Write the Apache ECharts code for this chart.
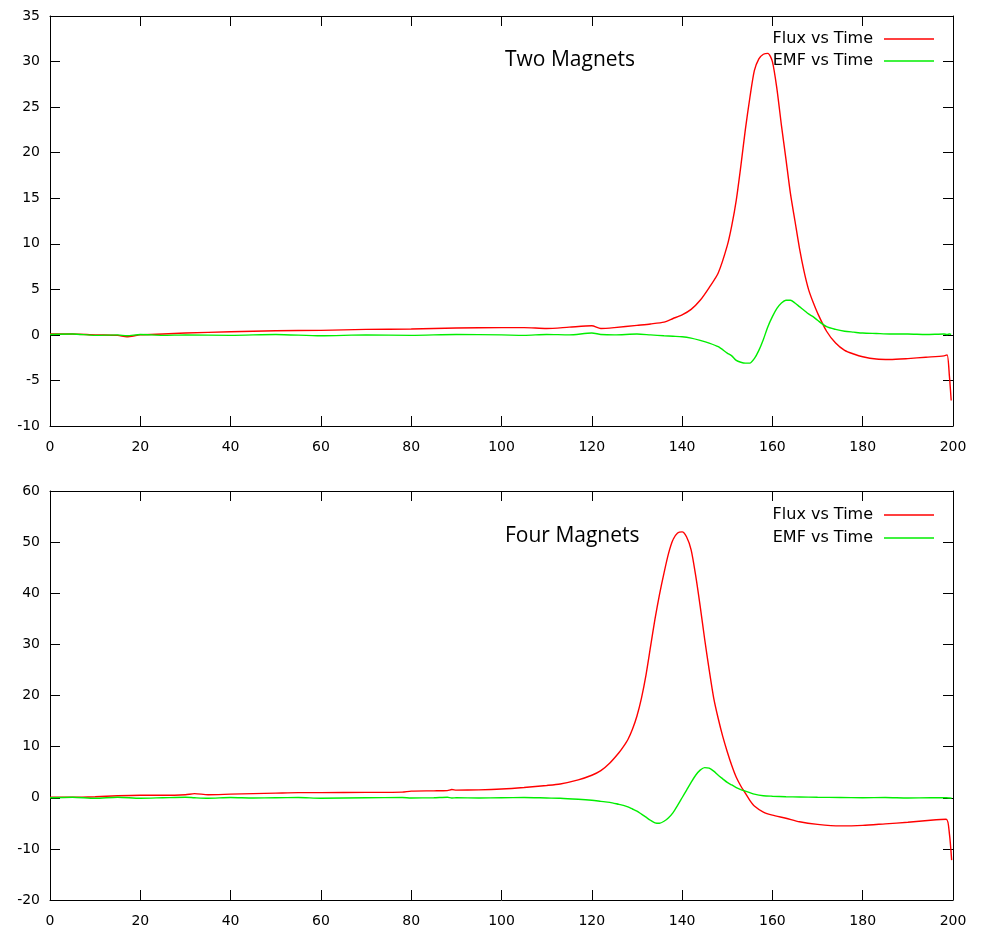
<!DOCTYPE html>
<html>
<head>
<meta charset="utf-8">
<script src="https://cdn.jsdelivr.net/npm/echarts@6/dist/echarts.min.js"></script>
<style>
html,body{margin:0;padding:0;background:#fff;}
#chart{width:986px;height:936px;}
</style>
</head>
<body>
<div id="chart"></div>
<script>
// ---- Top panel: Two Magnets ----
var timeTwo = [0,5,10,15,17,20,25,30,40,50,60,70,80,90,100,105,110,115,120,122,125,130,133,136,138,140,142,144,146,148,150,151,152,153,154,155,156,157,158,159,160,161,162,163,164,165,166,167,168,169,170,172,174,176,178,180,183,186,190,194,198,198.7,199.2,199.6];
var fluxTwo = [0.1,0.1,0.0,-0.05,-0.2,0.0,0.1,0.2,0.35,0.45,0.5,0.6,0.65,0.75,0.8,0.8,0.7,0.85,1.0,0.7,0.8,1.05,1.2,1.4,1.8,2.2,2.8,3.8,5.2,6.8,9.8,12.0,14.8,18.5,22.5,26,29,30.3,30.8,30.9,30,27,23,19.3,15.5,12.5,9.5,7.0,5.0,3.6,2.4,0.4,-0.9,-1.7,-2.1,-2.4,-2.65,-2.7,-2.6,-2.45,-2.3,-2.2,-4.5,-7.2];
var emfTwo = [0.05,0.1,-0.05,0.0,-0.1,0.05,-0.05,0.0,-0.05,0.05,-0.1,0.0,-0.05,0.05,0.0,-0.05,0.05,0.0,0.2,0.05,0.0,0.1,0.0,-0.1,-0.15,-0.2,-0.35,-0.6,-0.9,-1.3,-2.0,-2.3,-2.8,-3.0,-3.1,-3.1,-2.6,-1.7,-0.5,0.9,2.0,2.9,3.5,3.8,3.8,3.5,3.1,2.7,2.3,2.0,1.6,0.9,0.6,0.4,0.3,0.2,0.15,0.1,0.1,0.05,0.1,0.05,0.1,0.05];

// ---- Bottom panel: Four Magnets ----
var timeFour = [0,5,10,15,20,25,30,32,35,40,45,50,55,60,70,78,80,85,88,89,90,95,100,105,110,113,117,120,122,124,126,127,128,129,130,131,132,133,134,135,136,137,138,139,140,141,142,143,144,145,146,147,148,149,150,151,152,153,154,155,156,158,160,163,166,170,175,180,185,190,195,198.5,199.2,199.7];
var fluxFour = [0.1,0.1,0.2,0.4,0.5,0.5,0.6,0.8,0.6,0.7,0.8,0.9,1.0,1.0,1.05,1.1,1.3,1.35,1.4,1.6,1.5,1.55,1.7,2.0,2.4,2.7,3.5,4.4,5.3,6.8,8.8,10.0,11.4,13.4,16,19.5,24,29.5,35,39.8,44,47.8,50.5,51.8,52,51,48.5,43.5,37.5,31,25,19.5,15.5,12,9,6.3,4.0,2.3,0.9,-0.5,-1.6,-2.8,-3.4,-4.0,-4.7,-5.2,-5.5,-5.4,-5.1,-4.8,-4.4,-4.2,-7,-12.2];
var emfFour = [0,0.1,-0.1,0.1,-0.1,0,0.1,0.0,-0.1,0.05,-0.05,0.0,0.05,-0.1,0.0,0.05,-0.05,0.0,0.1,-0.05,0.0,-0.05,0.0,0.05,-0.05,-0.1,-0.3,-0.5,-0.7,-0.9,-1.3,-1.5,-1.8,-2.2,-2.6,-3.2,-3.8,-4.4,-4.9,-5.0,-4.6,-3.9,-2.9,-1.5,0.0,1.5,3.0,4.4,5.4,5.9,5.8,5.2,4.4,3.7,3.0,2.5,2.0,1.6,1.3,1.0,0.7,0.4,0.3,0.2,0.15,0.1,0.05,0.0,0.05,-0.05,0.0,0.0,-0.05,-0.1];

var titles = ['Two Magnets', 'Four Magnets'];
var seriesNames = ['Flux vs Time', 'EMF vs Time'];
var xTicks = {min: 0, max: 200, interval: 20};
var yTop = {min: -10, max: 35, interval: 5};
var yBottom = {min: -20, max: 60, interval: 10};

function pairs(t, v) { return t.map(function (x, i) { return [x, v[i]]; }); }

var FONT = 'DejaVu Sans';
var lineCol = '#000';

function xAxisDef(grid, pos, showLabel) {
  return {
    type: 'value', gridIndex: grid, position: pos,
    min: xTicks.min, max: xTicks.max, interval: xTicks.interval,
    axisLine: {show: true, onZero: false, lineStyle: {color: lineCol, width: 1}},
    axisTick: {show: true, inside: true, length: 10, lineStyle: {color: lineCol}},
    axisLabel: {show: showLabel, margin: 14, color: '#000', fontFamily: FONT, fontSize: 14},
    splitLine: {show: false}
  };
}
function yAxisDef(grid, pos, rng, showLabel) {
  return {
    type: 'value', gridIndex: grid, position: pos,
    min: rng.min, max: rng.max, interval: rng.interval,
    axisLine: {show: true, onZero: false, lineStyle: {color: lineCol, width: 1}},
    axisTick: {show: true, inside: true, length: 10, lineStyle: {color: lineCol}},
    axisLabel: {show: showLabel, margin: 10, color: '#000', fontFamily: FONT, fontSize: 14},
    splitLine: {show: false}
  };
}

function line(name, data, color, xi, yi) {
  return {
    type: 'line', name: name, data: data, xAxisIndex: xi, yAxisIndex: yi,
    symbol: 'none', smooth: 0.25, animation: false,
    lineStyle: {color: color, width: 1.4}, itemStyle: {color: color}
  };
}

var RED = '#ff0000', GREEN = '#00ee00';

function legendDef(name, top) {
  return {
    show: true, data: [name], right: 52, top: top, orient: 'horizontal', align: 'right',
    icon: 'rect', itemWidth: 50, itemHeight: 1.5, padding: 0, itemGap: 0,
    textStyle: {fontFamily: FONT, fontSize: 16, color: '#000', padding: [0, 6, 0, 0]},
    selectedMode: false
  };
}

var chart = echarts.init(document.getElementById('chart'), null, {renderer: 'canvas'});
chart.setOption({
  animation: false,
  backgroundColor: '#fff',
  title: [
    {text: titles[0], left: 500, top: 45, textStyle: {fontFamily: 'Open Sans', fontSize: 21, fontWeight: 'normal', color: '#000'}},
    {text: titles[1], left: 500, top: 521, textStyle: {fontFamily: 'Open Sans', fontSize: 21, fontWeight: 'normal', color: '#000'}}
  ],
  legend: [
    legendDef(seriesNames[0], 31),
    legendDef(seriesNames[1], 53),
    legendDef(seriesNames[0], 507),
    legendDef(seriesNames[1], 530)
  ],
  grid: [
    {left: 50, top: 16, width: 903, height: 410},
    {left: 50, top: 491, width: 903, height: 409}
  ],
  xAxis: [
    xAxisDef(0, 'bottom', true), xAxisDef(0, 'top', false),
    xAxisDef(1, 'bottom', true), xAxisDef(1, 'top', false)
  ],
  yAxis: [
    yAxisDef(0, 'left', yTop, true), yAxisDef(0, 'right', yTop, false),
    yAxisDef(1, 'left', yBottom, true), yAxisDef(1, 'right', yBottom, false)
  ],
  series: [
    line(seriesNames[0], pairs(timeTwo, fluxTwo), RED, 0, 0),
    line(seriesNames[1], pairs(timeTwo, emfTwo), GREEN, 0, 0),
    line(seriesNames[0], pairs(timeFour, fluxFour), RED, 2, 2),
    line(seriesNames[1], pairs(timeFour, emfFour), GREEN, 2, 2)
  ]
});
</script>
</body>
</html>
